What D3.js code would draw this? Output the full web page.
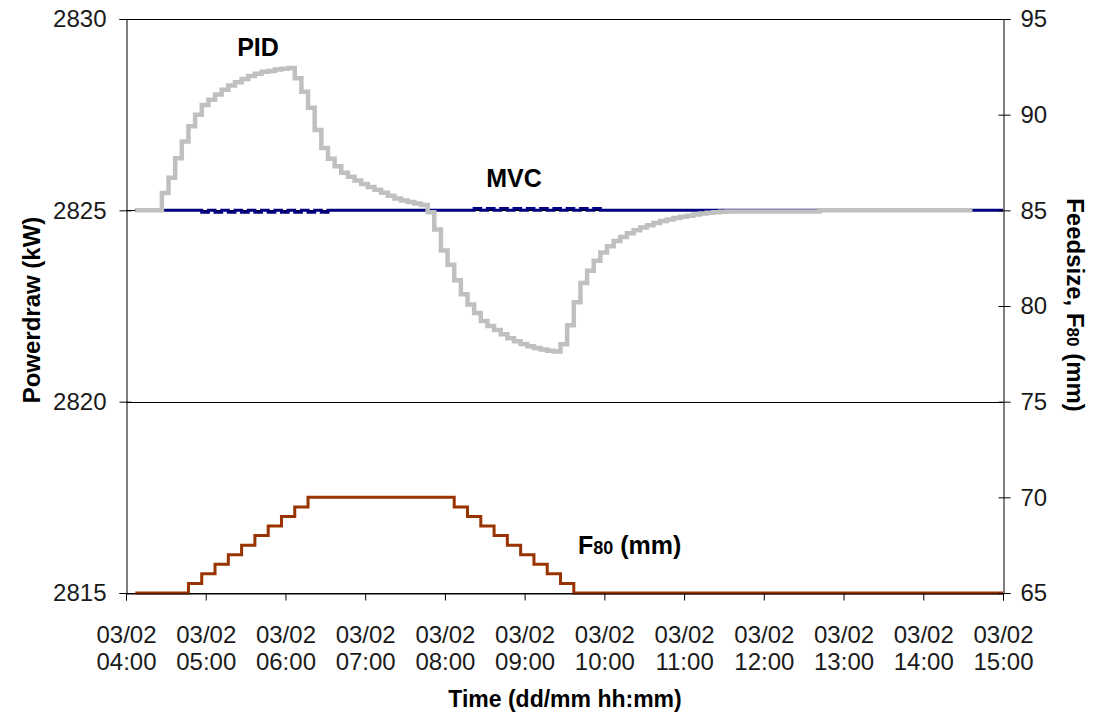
<!DOCTYPE html>
<html>
<head>
<meta charset="utf-8">
<script src="https://cdn.jsdelivr.net/npm/d3@7"></script>
<style>
  body { margin: 0; background: #fff; }
  svg text { font-family: "Liberation Sans Narrow", "Liberation Sans", Arial, sans-serif; }
  .title, .note { font-family: "Liberation Sans", Arial, sans-serif !important; font-weight: bold; fill: #000; }
</style>
</head>
<body>
<svg id="chart" width="1095" height="720"></svg>
<script>
// ---- axis labels -------------------------------------------------------
const dayIso = "2009-02-03";
const dateLabel = "03/02";
const hourLabels = ["04:00","05:00","06:00","07:00","08:00","09:00",
                    "10:00","11:00","12:00","13:00","14:00","15:00"];
const powerTicks = [2815, 2820, 2825, 2830];
const feedTicks = [65, 70, 75, 80, 85, 90, 95];

// ---- series ------------------------------------------------------------
// PID-controlled mill power draw (kW), one reading every 5 minutes
const pidStart = "04:07";
const pidStepMinutes = 5;
const pidValues = [
  2825.00, 2825.00, 2825.00, 2825.00, 2825.45, 2825.85, 2826.36, 2826.80, 2827.20, 2827.50,
  2827.75, 2827.89, 2828.03, 2828.15, 2828.26, 2828.35, 2828.43, 2828.51, 2828.57, 2828.62,
  2828.64, 2828.68, 2828.70, 2828.72, 2828.45, 2828.10, 2827.68, 2827.10, 2826.63, 2826.35,
  2826.15, 2825.98, 2825.88, 2825.78, 2825.69, 2825.61, 2825.54, 2825.46, 2825.38, 2825.31,
  2825.26, 2825.22, 2825.18, 2825.14, 2824.95, 2824.50, 2823.95, 2823.58, 2823.17, 2822.81,
  2822.54, 2822.32, 2822.11, 2821.98, 2821.87, 2821.76, 2821.66, 2821.58, 2821.51, 2821.45,
  2821.40, 2821.36, 2821.33, 2821.31, 2821.50, 2822.00, 2822.60, 2823.10, 2823.42, 2823.68,
  2823.90, 2824.06, 2824.20, 2824.30, 2824.40, 2824.48, 2824.55, 2824.61, 2824.67, 2824.72,
  2824.76, 2824.80, 2824.83, 2824.86, 2824.89, 2824.92, 2824.94, 2824.95, 2824.96, 2824.97,
  2824.97, 2824.97, 2824.97, 2824.97, 2824.97, 2824.97, 2824.97, 2824.97, 2824.97, 2824.97,
  2824.97, 2824.97, 2824.97, 2825.00, 2825.00, 2825.00, 2825.00, 2825.00, 2825.00, 2825.00,
  2825.00, 2825.00, 2825.00, 2825.00, 2825.00, 2825.00, 2825.00, 2825.00, 2825.00, 2825.00,
  2825.00, 2825.00, 2825.00, 2825.00, 2825.00, 2825.00
];
const pidEnd = "14:37";

// MVC-controlled mill power draw (kW), one reading every 5 minutes
const mvcStart = "04:07";
const mvcStepMinutes = 5;
const mvcValues = [
  2825.00, 2825.00, 2825.00, 2825.00, 2825.00, 2825.00, 2825.00, 2825.00, 2825.00, 2825.00,
  2824.95, 2825.00, 2824.95, 2825.00, 2824.95, 2825.00, 2824.95, 2825.00, 2824.95, 2825.00,
  2824.95, 2825.00, 2824.95, 2825.00, 2824.95, 2825.00, 2824.95, 2825.00, 2824.95, 2825.00,
  2825.00, 2825.00, 2825.00, 2825.00, 2825.00, 2825.00, 2825.00, 2825.00, 2825.00, 2825.00,
  2825.00, 2825.00, 2825.00, 2825.00, 2825.00, 2825.00, 2825.00, 2825.00, 2825.00, 2825.00,
  2825.00, 2825.05, 2825.00, 2825.05, 2825.00, 2825.05, 2825.00, 2825.05, 2825.00, 2825.05,
  2825.00, 2825.05, 2825.00, 2825.05, 2825.00, 2825.05, 2825.00, 2825.05, 2825.00, 2825.05,
  2825.00, 2825.00, 2825.00, 2825.00, 2825.00, 2825.00, 2825.00, 2825.00, 2825.00, 2825.00,
  2825.00, 2825.00, 2825.00, 2825.00, 2825.00, 2825.00, 2825.00, 2825.00, 2825.00, 2825.00,
  2825.00, 2825.00, 2825.00, 2825.00, 2825.00, 2825.00, 2825.00, 2825.00, 2825.00, 2825.00,
  2825.00, 2825.00, 2825.00, 2825.00, 2825.00, 2825.00, 2825.00, 2825.00, 2825.00, 2825.00,
  2825.00, 2825.00, 2825.00, 2825.00, 2825.00, 2825.00, 2825.00, 2825.00, 2825.00, 2825.00,
  2825.00, 2825.00, 2825.00, 2825.00, 2825.00, 2825.00, 2825.00, 2825.00, 2825.00, 2825.00,
  2825.00
];
const mvcEnd = "15:00";

// Feed size disturbance F80 (mm), one reading every 10 minutes
const f80Start = "04:07";
const f80StepMinutes = 10;
const f80Values = [
  65.0, 65.0, 65.0, 65.0, 65.5, 66.0, 66.5, 67.0, 67.5, 68.0,
  68.5, 69.0, 69.5, 70.0, 70.0, 70.0, 70.0, 70.0, 70.0, 70.0,
  70.0, 70.0, 70.0, 70.0, 69.5, 69.0, 68.5, 68.0, 67.5, 67.0,
  66.5, 66.0, 65.5, 65.0, 65.0, 65.0, 65.0, 65.0, 65.0, 65.0,
  65.0, 65.0, 65.0, 65.0, 65.0, 65.0, 65.0, 65.0, 65.0, 65.0,
  65.0, 65.0, 65.0, 65.0, 65.0, 65.0, 65.0, 65.0, 65.0, 65.0,
  65.0, 65.0, 65.0, 65.0, 65.0, 65.0
];
const f80End = "15:00";

// ---- layout ------------------------------------------------------------
const plot = { left: 126, right: 1003, top: 19, bottom: 593 };
const at = hm => new Date(`${dayIso}T${hm}:00`);

const x = d3.scaleTime()
  .domain([at(hourLabels[0]), at(hourLabels[hourLabels.length - 1])])
  .range([plot.left, plot.right]);
const yPower = d3.scaleLinear().domain([2815, 2830]).range([plot.bottom, plot.top]);
const yFeed = d3.scaleLinear().domain([65, 95]).range([plot.bottom, plot.top]);

const svg = d3.select("#chart");

// Turn a regularly sampled series into time/value points, holding the
// final reading until the series end time.
function toPoints(start, stepMinutes, values, end) {
  const t0 = at(start);
  const pts = values.map((v, i) => ({ t: d3.timeMinute.offset(t0, i * stepMinutes), v }));
  const tEnd = at(end);
  if (tEnd > pts[pts.length - 1].t) pts.push({ t: tEnd, v: values[values.length - 1] });
  return pts;
}

// ---- gridlines -----------------------------------------------------------
svg.append("g")
  .selectAll("line")
  .data(powerTicks)
  .join("line")
  .attr("x1", plot.left).attr("x2", plot.right)
  .attr("y1", d => Math.round(yPower(d)) + 0.5).attr("y2", d => Math.round(yPower(d)) + 0.5)
  .attr("stroke", "#000").attr("stroke-width", 1);

// ---- series lines --------------------------------------------------------
const stepLine = yScale => d3.line()
  .x(d => x(d.t))
  .y(d => yScale(d.v))
  .curve(d3.curveStepAfter);

svg.append("path")
  .datum(toPoints(f80Start, f80StepMinutes, f80Values, f80End))
  .attr("fill", "none").attr("stroke", "#993300").attr("stroke-width", 3)
  .attr("d", stepLine(yFeed));

svg.append("path")
  .datum(toPoints(mvcStart, mvcStepMinutes, mvcValues, mvcEnd))
  .attr("fill", "none").attr("stroke", "#000080").attr("stroke-width", 3)
  .attr("d", stepLine(yPower));

svg.append("path")
  .datum(toPoints(pidStart, pidStepMinutes, pidValues, pidEnd))
  .attr("fill", "none").attr("stroke", "#c0c0c0").attr("stroke-width", 4.5)
  .attr("stroke-linejoin", "miter")
  .attr("d", stepLine(yPower));

// ---- axes ----------------------------------------------------------------
const tickFont = g => g.selectAll("text")
  .attr("fill", "#1a1a1a").style("font-size", "24px");

// left: powerdraw
const gLeft = svg.append("g").attr("transform", `translate(${plot.left + 0.5},0)`);
gLeft.call(d3.axisLeft(yPower).tickValues(d3.range(2815, 2831, 1)).tickSize(7).tickFormat(""));
gLeft.call(d3.axisLeft(yPower).tickValues(powerTicks).tickSize(7).tickPadding(13).tickFormat(d3.format("d")));
gLeft.selectAll(".tick").filter(d => powerTicks.includes(d))
  .append("line").attr("x2", 5).attr("stroke", "#000");
gLeft.call(tickFont);

// right: feed size
const gRight = svg.append("g").attr("transform", `translate(${plot.right + 0.5},0)`);
gRight.call(d3.axisRight(yFeed).tickValues(d3.range(65, 96, 1)).tickSize(6).tickFormat(""));
gRight.call(d3.axisRight(yFeed).tickValues(feedTicks).tickSize(7).tickPadding(10).tickFormat(d3.format("d")));
gRight.selectAll(".tick").filter(d => feedTicks.includes(d))
  .append("line").attr("x2", -5).attr("stroke", "#000");
gRight.call(tickFont);

// bottom: time
const gBottom = svg.append("g").attr("transform", `translate(0,${plot.bottom + 0.5})`);
gBottom.call(d3.axisBottom(x).tickValues(hourLabels.map(at)).tickSize(7).tickFormat(""));
gBottom.selectAll(".tick").each(function (d, i) {
  const t = d3.select(this).append("text")
    .attr("text-anchor", "middle").attr("fill", "#1a1a1a").style("font-size", "24px");
  t.append("tspan").attr("x", 0).attr("y", 49).text(dateLabel);
  t.append("tspan").attr("x", 0).attr("y", 76).text(hourLabels[i]);
});

svg.selectAll(".domain").attr("stroke", "#000");
svg.selectAll(".tick line").attr("stroke", "#000");

// ---- titles --------------------------------------------------------------
svg.append("text").attr("class", "title")
  .attr("transform", "translate(40,310) rotate(-90)")
  .attr("text-anchor", "middle").style("font-size", "24px")
  .text("Powerdraw (kW)");

const rightTitle = svg.append("text").attr("class", "title")
  .attr("transform", "translate(1067,305) rotate(90)")
  .attr("text-anchor", "middle").style("font-size", "24px");
rightTitle.append("tspan").text("Feedsize, F");
rightTitle.append("tspan").style("font-size", "17px").text("80");
rightTitle.append("tspan").text(" (mm)");

svg.append("text").attr("class", "title")
  .attr("x", 565).attr("y", 707).attr("text-anchor", "middle").style("font-size", "23px")
  .text("Time (dd/mm hh:mm)");

// ---- series annotations ----------------------------------------------------
svg.append("text").attr("class", "note")
  .attr("x", 258).attr("y", 56).attr("text-anchor", "middle").style("font-size", "25px")
  .text("PID");

svg.append("text").attr("class", "note")
  .attr("x", 514).attr("y", 187).attr("text-anchor", "middle").style("font-size", "25px")
  .text("MVC");

const f80Note = svg.append("text").attr("class", "note")
  .attr("x", 578).attr("y", 554).style("font-size", "25px");
f80Note.append("tspan").text("F");
f80Note.append("tspan").style("font-size", "18px").text("80");
f80Note.append("tspan").text(" (mm)");
</script>
</body>
</html>
